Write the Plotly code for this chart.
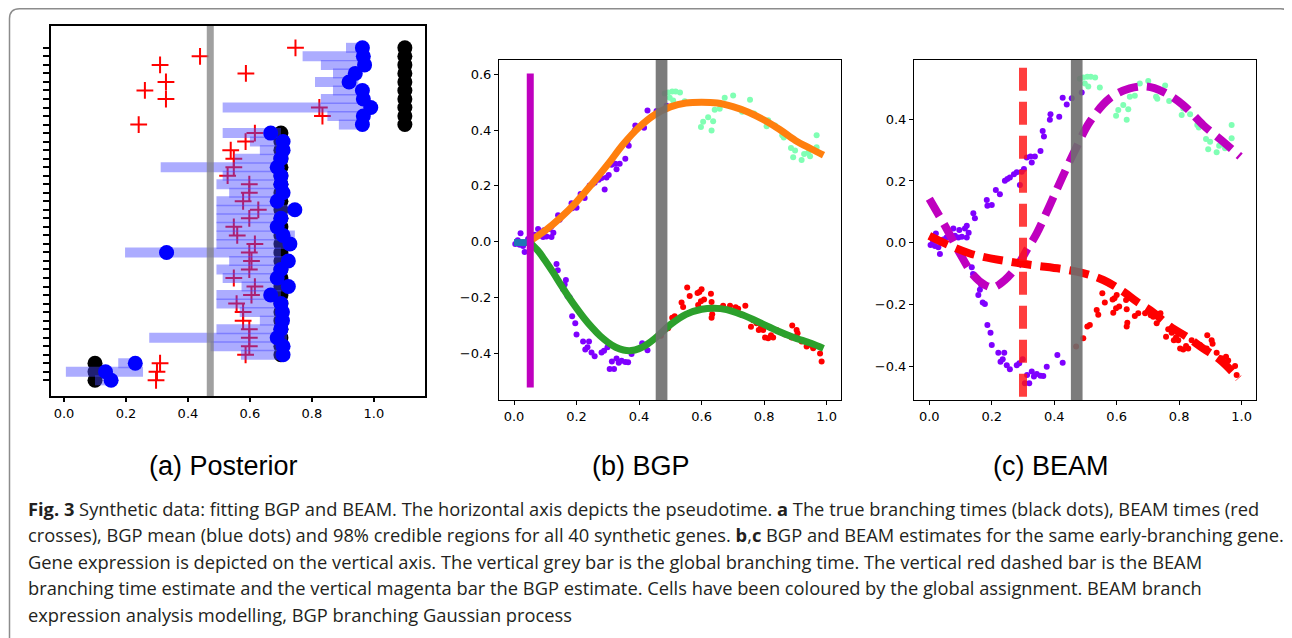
import plotly.graph_objects as go

# The page body has an 8px margin, so the figure is sized and positioned to compensate.
OFF = 8
W, H = 1292 - OFF, 638 - OFF

# ---------------- Panel (a) data: 40 synthetic genes (index 0 = bottom) ----------------
gene_idx = list(range(40))
true_time = [0.1] * 3 + [0.7] * 27 + [1.1] * 10
bgp_mean = [0.152, 0.134, 0.23,
            0.707, 0.707, 0.688, 0.70, 0.705, 0.705, 0.70, 0.667, 0.724, 0.688,
            0.70, 0.724, 0.331, 0.729, 0.707, 0.688, 0.70, 0.745, 0.688, 0.707,
            0.70, 0.70, 0.688, 0.70, 0.707, 0.707, 0.667,
            0.963, 0.966, 0.99, 0.966, 0.963, 0.92, 0.94, 0.97, 0.966, 0.963]
beam_time = [0.297, 0.30, 0.31,
             0.586, 0.598, 0.598, 0.598, 0.578, 0.578, 0.557, 0.605, 0.616, 0.548,
             0.598, 0.605, 0.598, 0.616, 0.559, 0.548, 0.598, 0.627, 0.578, 0.598,
             0.598, 0.528, 0.548, 0.548, 0.538, 0.586, 0.616,
             0.241, 0.834, 0.824, 0.329, 0.261, 0.329, 0.587, 0.31, 0.439, 0.747]
ci_low = [0.10, 0.006, 0.175,
          0.571, 0.473, 0.275, 0.492, 0.632, 0.567, 0.492, 0.492, 0.573, 0.512,
          0.492, 0.533, 0.197, 0.492, 0.492, 0.492, 0.492, 0.492, 0.492, 0.533,
          0.492, 0.512, 0.312, 0.55, 0.632, 0.60, 0.512,
          0.887, 0.85, 0.512, 0.829, 0.868, 0.81, 0.868, 0.829, 0.77, 0.91]
ci_high = [0.16, 0.255, 0.235,
           0.72, 0.72, 0.72, 0.72, 0.72, 0.72, 0.72, 0.70, 0.74, 0.71,
           0.72, 0.74, 0.70, 0.74, 0.745, 0.71, 0.72, 0.75, 0.71, 0.72,
           0.72, 0.72, 0.71, 0.72, 0.72, 0.72, 0.70,
           0.98, 0.98, 1.0, 0.98, 0.98, 0.95, 0.96, 0.99, 0.98, 0.98]
global_branch = 0.472
a_xticks = [0.0, 0.2, 0.4, 0.6, 0.8, 1.0]

# ---------------- Panels (b),(c): cells of the same gene ----------------
purple_x = [0.004, 0.012, 0.018, 0.021, 0.029, 0.034, 0.045, 0.055, 0.066, 0.077, 0.082,
            0.093, 0.096, 0.104, 0.114, 0.12, 0.126,
            0.12, 0.141, 0.146, 0.184, 0.186, 0.20, 0.213, 0.226, 0.242, 0.25, 0.258,
            0.271, 0.28, 0.29, 0.296, 0.303, 0.312, 0.324, 0.328, 0.338, 0.356, 0.363,
            0.367, 0.386, 0.388, 0.416, 0.427, 0.44, 0.456, 0.488,
            0.136, 0.14, 0.157, 0.162, 0.166, 0.171, 0.178, 0.186, 0.196, 0.20, 0.221,
            0.228, 0.235, 0.24, 0.248, 0.258, 0.28, 0.288, 0.299, 0.306, 0.313, 0.32,
            0.328, 0.335, 0.344, 0.356, 0.365, 0.376, 0.41, 0.427]
purple_y = [-0.008, 0.005, -0.011, 0.030, -0.015, -0.037, 0.010, 0.017, 0.025, 0.046, 0.022,
            0.017, 0.041, 0.019, 0.046, 0.017, 0.032,
            0.055, 0.095, 0.079, 0.138, 0.12, 0.122, 0.171, 0.157, 0.201, 0.206, 0.211,
            0.222, 0.228, 0.187, 0.23, 0.239, 0.276, 0.279, 0.26, 0.279, 0.297, 0.362,
            0.344, 0.398, 0.416, 0.408, 0.47, 0.448, 0.468, 0.487,
            -0.08, -0.102, -0.17, -0.153, -0.137, -0.194, -0.199, -0.267, -0.292, -0.332, -0.357,
            -0.386, -0.378, -0.357, -0.397, -0.41, -0.397, -0.391, -0.378, -0.456, -0.429, -0.456,
            -0.418, -0.434, -0.426, -0.431, -0.432, -0.402, -0.364, -0.389]
green_x = [0.482, 0.493, 0.506, 0.517, 0.531, 0.498, 0.509, 0.546, 0.598, 0.605, 0.621,
           0.632, 0.637, 0.642, 0.658, 0.674, 0.701, 0.726, 0.73, 0.755, 0.768, 0.808,
           0.813, 0.835, 0.858, 0.863, 0.886, 0.893, 0.899, 0.92, 0.928, 0.941, 0.947,
           0.968, 0.968]
green_y = [0.531, 0.535, 0.538, 0.538, 0.535, 0.516, 0.506, 0.503, 0.411, 0.43, 0.446,
           0.398, 0.432, 0.473, 0.476, 0.516, 0.524, 0.473, 0.466, 0.509, 0.459, 0.414,
           0.435, 0.416, 0.381, 0.373, 0.336, 0.303, 0.327, 0.293, 0.314, 0.319, 0.306,
           0.381, 0.338]
red_x = [0.47, 0.493, 0.506, 0.514, 0.536, 0.541, 0.554, 0.562, 0.587, 0.589, 0.593,
         0.598, 0.60, 0.608, 0.63, 0.632, 0.632, 0.634, 0.658, 0.669, 0.691, 0.709,
         0.717, 0.728, 0.74, 0.758, 0.765, 0.776, 0.783, 0.79, 0.797, 0.803, 0.813,
         0.822, 0.829, 0.84, 0.867, 0.888, 0.89, 0.904, 0.907, 0.92, 0.936, 0.95,
         0.957, 0.979, 0.984]
red_y = [-0.337, -0.31, -0.272, -0.267, -0.218, -0.234, -0.164, -0.194, -0.184, -0.227, -0.18,
         -0.213, -0.17, -0.207, -0.186, -0.216, -0.272, -0.26, -0.238, -0.229, -0.229, -0.235,
         -0.24, -0.261, -0.229, -0.305, -0.281, -0.292, -0.316, -0.307, -0.316, -0.343, -0.346,
         -0.335, -0.343, -0.316, -0.332, -0.343, -0.3, -0.316, -0.328, -0.357, -0.375, -0.37,
         -0.382, -0.4, -0.429]

# BGP fit (panel b)
bgp_branch = 0.052
bgp_bar_y = [0.603, -0.522]
trunk_x = [0.0, 0.048]
trunk_y = [-0.003, -0.003]
upper_x = [0.048, 0.1, 0.15, 0.2, 0.25, 0.3, 0.35, 0.4, 0.45, 0.5, 0.55, 0.6, 0.65,
           0.7, 0.75, 0.8, 0.85, 0.9, 0.95, 0.99]
upper_y = [0.0, 0.04, 0.087, 0.143, 0.208, 0.277, 0.35, 0.41, 0.455, 0.483, 0.497, 0.5,
           0.497, 0.484, 0.464, 0.436, 0.402, 0.363, 0.333, 0.31]
lower_x = [0.048, 0.075, 0.1, 0.125, 0.15, 0.175, 0.2, 0.225, 0.25, 0.275, 0.3, 0.325,
           0.35, 0.375, 0.4, 0.425, 0.45, 0.475, 0.5, 0.55, 0.6, 0.64, 0.68, 0.73, 0.787,
           0.84, 0.893, 0.95, 0.99]
lower_y = [0.0, -0.03, -0.068, -0.11, -0.155, -0.198, -0.238, -0.275, -0.308, -0.337,
           -0.36, -0.378, -0.388, -0.39, -0.383, -0.368, -0.347, -0.322, -0.297, -0.26,
           -0.242, -0.238, -0.243, -0.262, -0.29, -0.318, -0.342, -0.364, -0.382]

# BEAM fit (panel c)
beam_branch = 0.30
beam_bar_y = [0.567, -0.56]
beam_up_x = [0.0, 0.055, 0.098, 0.141, 0.178, 0.205, 0.242, 0.28, 0.312, 0.344, 0.386,
             0.429, 0.472, 0.514, 0.578, 0.642, 0.696, 0.749, 0.813, 0.877, 0.941, 0.995]
beam_up_y = [0.142, 0.046, -0.035, -0.105, -0.137, -0.145, -0.121, -0.078, -0.024, 0.03,
             0.122, 0.219, 0.311, 0.392, 0.468, 0.50, 0.506, 0.489, 0.446, 0.381, 0.327, 0.279]
beam_lo_x = [0.0, 0.13, 0.29, 0.472, 0.557, 0.621, 0.664, 0.717, 0.771, 0.824, 0.877,
             0.931, 0.99]
beam_lo_y = [0.022, -0.035, -0.067, -0.094, -0.121, -0.159, -0.191, -0.226, -0.272,
             -0.305, -0.343, -0.38, -0.44]

bc_xticks = [0.0, 0.2, 0.4, 0.6, 0.8, 1.0]
b_yticks = [-0.4, -0.2, 0.0, 0.2, 0.4, 0.6]
c_yticks = [-0.4, -0.2, 0.0, 0.2, 0.4]

subtitles = ["(a) Posterior", "(b) BGP", "(c) BEAM"]
caption_lines = [
    "<b>Fig. 3</b> Synthetic data: fitting BGP and BEAM. The horizontal axis depicts the pseudotime. <b>a</b> The true branching times (black dots), BEAM times (red",
    "crosses), BGP mean (blue dots) and 98% credible regions for all 40 synthetic genes. <b>b</b>,<b>c</b> BGP and BEAM estimates for the same early-branching gene.",
    "Gene expression is depicted on the vertical axis. The vertical grey bar is the global branching time. The vertical red dashed bar is the BEAM",
    "branching time estimate and the vertical magenta bar the BGP estimate. Cells have been coloured by the global assignment. BEAM branch",
    "expression analysis modelling, BGP branching Gaussian process",
]


# page pixel -> paper fraction
def px(v):
    return (v - OFF) / W


def py(v):
    return 1 - (v - OFF) / H


# ---------------------------------------------------------------------------
fig = go.Figure()

# Panel (a)
fig.add_trace(go.Scatter(x=true_time, y=gene_idx, mode="markers", xaxis="x", yaxis="y",
                         marker=dict(color="black", size=15), showlegend=False))
fig.add_trace(go.Scatter(x=beam_time, y=gene_idx, mode="markers", xaxis="x", yaxis="y",
                         marker=dict(symbol="cross-thin", size=12, color="red",
                                     line=dict(color="red", width=2)), showlegend=False))
for g, lo, hi in zip(gene_idx, ci_low, ci_high):
    fig.add_trace(go.Scatter(x=[lo, hi], y=[g, g], mode="lines", xaxis="x", yaxis="y",
                             line=dict(color="rgba(70,70,255,0.45)", width=10),
                             showlegend=False, hoverinfo="skip"))
fig.add_trace(go.Scatter(x=bgp_mean, y=gene_idx, mode="markers", xaxis="x", yaxis="y",
                         marker=dict(color="blue", size=15), showlegend=False))

# Panels (b) and (c): cells
for xa, ya in (("x2", "y2"), ("x3", "y3")):
    fig.add_trace(go.Scatter(x=purple_x, y=purple_y, mode="markers", xaxis=xa, yaxis=ya,
                             marker=dict(color="#7F00FF", size=6), showlegend=False))
    fig.add_trace(go.Scatter(x=green_x, y=green_y, mode="markers", xaxis=xa, yaxis=ya,
                             marker=dict(color="#80FFB4", size=6), showlegend=False))
    fig.add_trace(go.Scatter(x=red_x, y=red_y, mode="markers", xaxis=xa, yaxis=ya,
                             marker=dict(color="#FF0000", size=6), showlegend=False))

# Panel (b) fit
fig.add_trace(go.Scatter(x=trunk_x, y=trunk_y, mode="lines", xaxis="x2", yaxis="y2",
                         line=dict(color="#1F77B4", width=7), showlegend=False))
fig.add_trace(go.Scatter(x=upper_x, y=upper_y, mode="lines", xaxis="x2", yaxis="y2",
                         line=dict(color="#FF7F0E", width=7, shape="spline", smoothing=1),
                         showlegend=False))
fig.add_trace(go.Scatter(x=lower_x, y=lower_y, mode="lines", xaxis="x2", yaxis="y2",
                         line=dict(color="#2CA02C", width=7, shape="spline", smoothing=1),
                         showlegend=False))
fig.add_trace(go.Scatter(x=[bgp_branch, bgp_branch], y=bgp_bar_y, mode="lines",
                         xaxis="x2", yaxis="y2",
                         line=dict(color="#BF00BF", width=7), showlegend=False))

# Panel (c) fit
fig.add_trace(go.Scatter(x=beam_up_x, y=beam_up_y, mode="lines", xaxis="x3", yaxis="y3",
                         line=dict(color="#BF00BF", width=8, dash="20px,9px", shape="spline"),
                         showlegend=False))
fig.add_trace(go.Scatter(x=beam_lo_x, y=beam_lo_y, mode="lines", xaxis="x3", yaxis="y3",
                         line=dict(color="#FF0000", width=8, dash="20px,9px", shape="spline"),
                         showlegend=False))
fig.add_trace(go.Scatter(x=[beam_branch, beam_branch], y=beam_bar_y, mode="lines",
                         xaxis="x3", yaxis="y3",
                         line=dict(color="rgba(255,20,20,0.82)", width=8, dash="23px,11px"),
                         showlegend=False))

# Global branching bands
shapes = []
for xr, yr, half, col in (("x", "y domain", 0.0113, "rgba(128,128,128,0.75)"),
                          ("x2", "y2 domain", 0.0187, "rgba(110,110,110,0.9)"),
                          ("x3", "y3 domain", 0.0187, "rgba(110,110,110,0.9)")):
    shapes.append(dict(type="rect", xref=xr, yref=yr, x0=global_branch - half,
                       x1=global_branch + half, y0=0, y1=1, fillcolor=col,
                       line=dict(width=0), layer="above"))

# Outer rounded frame
fx0, fy0, fx1, fyb, r = 9.5, 8.75, 1290.5, 700, 10
frame = (f"M {px(fx0)},{py(fyb)} L {px(fx0)},{py(fy0 + r)} "
         f"Q {px(fx0)},{py(fy0)} {px(fx0 + r)},{py(fy0)} "
         f"L {px(fx1 - r)},{py(fy0)} Q {px(fx1)},{py(fy0)} {px(fx1)},{py(fy0 + r)} "
         f"L {px(fx1)},{py(fyb)}")
shapes.append(dict(type="path", xref="paper", yref="paper", path=frame,
                   line=dict(color="#8C8C8C", width=1.5)))

tickfont = dict(family="DejaVu Sans", size=13, color="black")


def fmt(v):
    return f"{v:.1f}".replace("-", "\u2212")


common_axis = dict(showgrid=False, zeroline=False, showline=True, mirror=True,
                   linecolor="black", ticks="outside", tickcolor="black", tickfont=tickfont)

fig.update_layout(
    width=W, height=H, margin=dict(l=0, r=0, t=0, b=0),
    paper_bgcolor="white", plot_bgcolor="white", showlegend=False,
    xaxis=dict(domain=[px(51), px(425)], range=[-0.042, 1.165], tickvals=a_xticks,
               ticktext=[fmt(v) for v in a_xticks], linewidth=2, ticklen=4, tickwidth=1.5,
               **common_axis),
    yaxis=dict(domain=[py(396), py(26)], range=[-1.84, 41.56], tickvals=gene_idx,
               showticklabels=False, linewidth=2, ticklen=6, tickwidth=2, **common_axis),
    xaxis2=dict(domain=[px(499), px(841)], range=[-0.048, 1.046], tickvals=bc_xticks,
                ticktext=[fmt(v) for v in bc_xticks], linewidth=1, ticklen=4,
                anchor="y2", **common_axis),
    yaxis2=dict(domain=[py(400), py(60)], range=[-0.567, 0.651], tickvals=b_yticks,
                ticktext=[fmt(v) for v in b_yticks], linewidth=1,
                ticklen=4, anchor="x2", **common_axis),
    xaxis3=dict(domain=[px(914), px(1256)], range=[-0.049, 1.046], tickvals=bc_xticks,
                ticktext=[fmt(v) for v in bc_xticks], linewidth=1, ticklen=4,
                anchor="y3", **common_axis),
    yaxis3=dict(domain=[py(400), py(60)], range=[-0.51, 0.592], tickvals=c_yticks,
                ticktext=[fmt(v) for v in c_yticks], linewidth=1,
                ticklen=4, anchor="x3", **common_axis),
    shapes=shapes,
)

annotations = []
for txt, cx in zip(subtitles, (223, 641, 1051)):
    annotations.append(dict(text=txt, x=px(cx), y=py(466), xref="paper", yref="paper",
                            xanchor="center", yanchor="middle", showarrow=False,
                            font=dict(family="Liberation Sans, Arial", size=27, color="black")))
for i, line in enumerate(caption_lines):
    annotations.append(dict(text=line, x=px(26), y=py(508 + 26.5 * i), xref="paper",
                            yref="paper", xanchor="left", yanchor="middle", showarrow=False,
                            font=dict(family="Open Sans", size=18.3, color="#231F20")))
fig.update_layout(annotations=annotations)

fig.write_html("out.html")
